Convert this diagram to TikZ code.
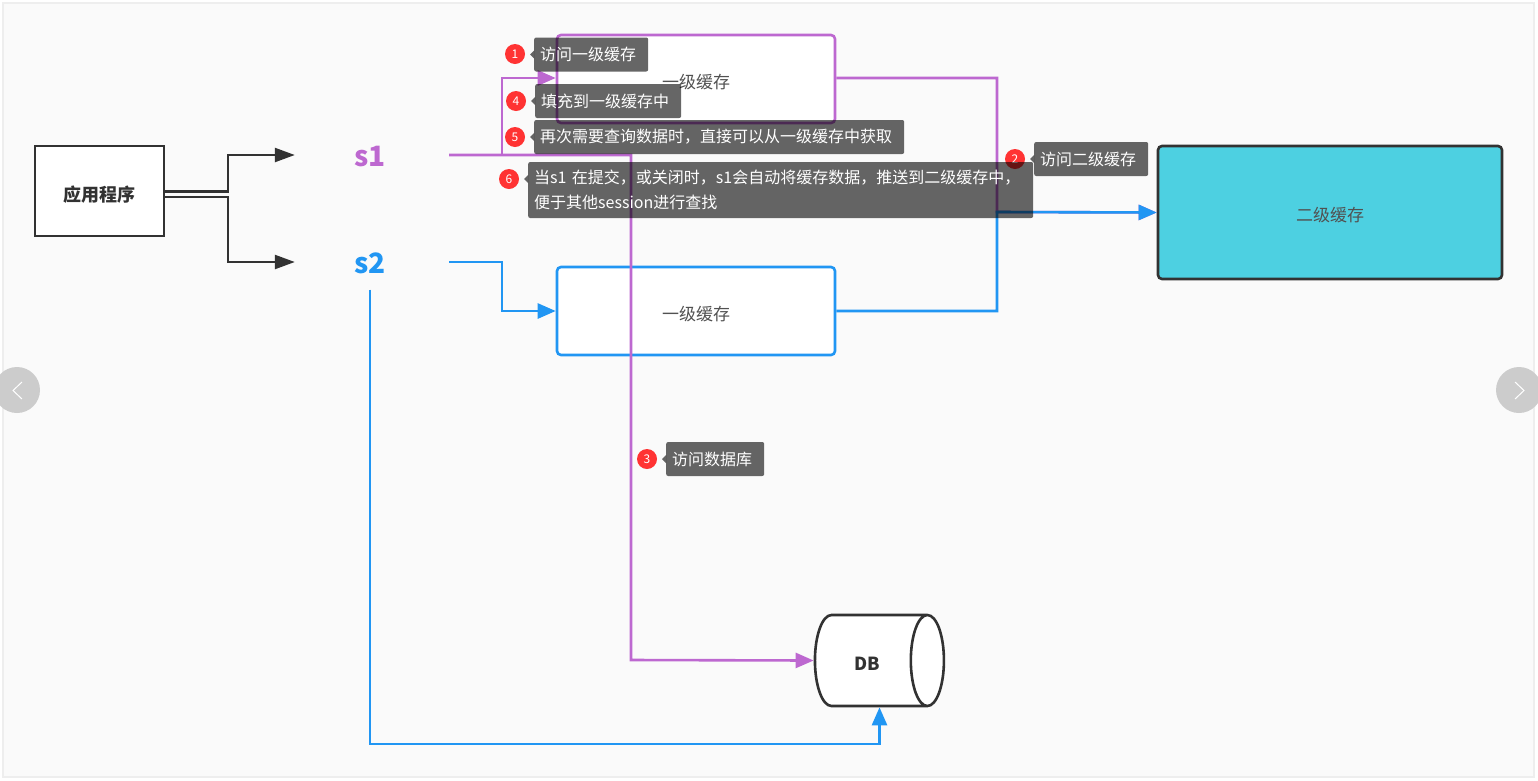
\documentclass[tikz,border=0pt]{standalone}
\usepackage{fontspec}
\setmainfont{Noto Sans CJK SC}
\usetikzlibrary{shapes,arrows,arrows.meta}

\definecolor{colFrame}{HTML}{EEEEEE}
\definecolor{colBack}{HTML}{FAFAFA}
\definecolor{colDark}{HTML}{323232}
\definecolor{colPurple}{HTML}{BD68D0}
\definecolor{colBlue}{HTML}{2196F3}
\definecolor{colCyan}{HTML}{4DD0E1}
\definecolor{colBadge}{HTML}{FF3333}
\definecolor{colNav}{HTML}{CCCCCC}

\begin{document}
\begin{tikzpicture}[x=1pt,y=-1pt]
			\useasboundingbox (0,0) rectangle (1538,780);
			\begin{scope}
				[
					styleApp/.style={draw=colDark, line width=2.6, fill=white, minimum width=129, minimum height=90, text height=20.7pt, text depth=0pt, font=\fontsize{18}{22}\selectfont\bfseries, text=colDark},
					styleSession/.style={minimum width=158, minimum height=54, text height=22pt, text depth=0pt, font=\fontsize{28}{32}\selectfont\bfseries, text=#1},
					styleCache/.style={draw=#1, line width=2.6, rounded corners=4, fill=white, minimum width=278, minimum height=88, text height=19pt, text depth=0pt, font=\fontsize{17}{20}\selectfont, text=colDark!85},
					styleNav/.style={circle, fill=colNav, minimum size=46, inner sep=0},
				]
				\fill[colBack, draw=colFrame, line width=2] (3,3) rectangle (1534,777);
				\node(app)[styleApp] at (99.5,191) {应用程序};
				\node(s1)[styleSession=colPurple] at (370,155) {s1};
				\node(s2)[styleSession=colBlue] at (370,262.5) {s2};
				\node(cacheA)[styleCache=colPurple] at (696,79) {一级缓存};
				\node(cacheB)[styleCache=colBlue] at (696,311) {一级缓存};
				\node(cacheTwo)[styleCache=colDark, fill=colCyan, minimum width=344, minimum height=133, text height=17pt] at (1330,212.5) {二级缓存};
				\node(db)[draw=colDark, line width=2.6, fill=white, shape=cylinder, shape aspect=1.6, minimum width=91, minimum height=129, inner sep=0, text height=20.7pt, text depth=0pt, font=\fontsize{18}{22}\selectfont\bfseries, text=colDark] at (870.5,660.5) {\hspace*{-3pt}DB\hspace*{3pt}};
				\node(prev)[styleNav] at (17,390) {};
				\node(next)[styleNav] at (1519,390) {};
				\coordinate(forkA) at (228,155);
				\coordinate(forkB) at (228,262);
				\coordinate(joinTwo) at (997,212);
			\end{scope}

			\begin{scope}
				[ dark/.style = {draw=colDark, line width=2.4, -{Triangle[length=20,width=14]}},
					purple/.style = {draw=colPurple, line width=2.6, -{Triangle[length=18,width=15]}},
					blue/.style = {draw=colBlue, line width=2.6, -{Triangle[length=18,width=15]}},
					>=stealth']
				% double line out of the application box
				\draw[dark] ([yshift=-0.5]app.east) -- ([yshift=-0.5]app.east -| forkA) -- (forkA) -- ([xshift=4]s1.west |- forkA);
				\draw[dark] ([yshift=-6]app.east) -- ([yshift=-6]app.east -| forkB) -- (forkB) -- ([xshift=4]s2.west |- forkB);

				\draw[purple] (s1.east) -| (502,78) -- (cacheA.west |- 0,78);
				\draw[purple] (s1.east) -| (631,660) -- (db.west);
				\draw[purple] (cacheA.east |- 0,78) -| (joinTwo) -- (cacheTwo.west);
				\draw[blue] (s2.east |- 0,262) -| (502,311) -- (cacheB.west);
				\draw[blue] (cacheB.east) -| (joinTwo) -- (cacheTwo.west);
				\draw[blue] (s2.south) |- ([xshift=9]db.south |- 0,744) -- ([xshift=9]db.south);

				\draw[white, line width=1] (22,382) -- (13,390.5) -- (22,399);
				\draw[white, line width=1] (1515,382) -- (1524,390.5) -- (1515,399);
			\end{scope}

			\begin{scope}
				[
					tipbox/.style={anchor=west, fill=black, fill opacity=0.6, text opacity=1, text=white, rounded corners=2, inner xsep=6, inner ysep=0, minimum height=34, align=left, text width=#1, font=\fontsize{16}{25}\selectfont},
					tipmark/.style={fill=black, fill opacity=0.6},
					badge/.style={circle, fill=colBadge, text=white, minimum size=20, inner sep=0, font=\fontsize{12}{14}\selectfont},
				]
				\node(n1)[badge] at (515,54) {1};
				\node(tip1)[tipbox=102] at (534,54.5) {访问一级缓存};
				\node(n4)[badge] at (516,101) {4};
				\node(tip4)[tipbox=134] at (535,101) {填充到一级缓存中};
				\node(n5)[badge] at (515,137) {5};
				\node(tip5)[tipbox=358] at (534,137) {再次需要查询数据时，直接可以从一级缓存中获取};
				\node(n2)[badge] at (1015,159) {2};
				\node(tip2)[tipbox=102] at (1034,159) {访问二级缓存};
				\node(n3)[badge] at (647,459) {3};
				\node(tip3)[tipbox=86] at (666,459) {访问数据库};
				\node(n6)[badge] at (509,179) {6};
				\node(tip6)[tipbox=493, minimum height=56] at (528,190) {当s1 在提交，或关闭时，s1会自动将缓存数据，推送到二级缓存中，\\便于其他session进行查找};

				\foreach \t/\dy in {tip1/0,tip2/0,tip3/0,tip4/0,tip5/0,tip6/11}
					\fill[tipmark] ([yshift=\dy+4]\t.west) -- ++(-4,4) -- ++(4,4) -- cycle;
			\end{scope}
		\end{tikzpicture}
\end{document}
